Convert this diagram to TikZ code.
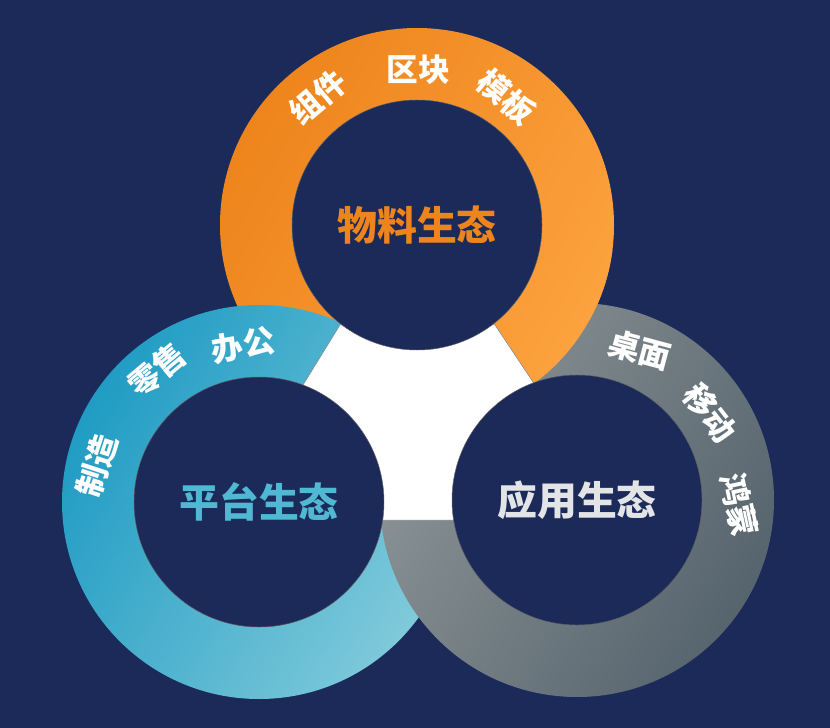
\documentclass[tikz,border=0pt]{standalone}
\usepackage{fontspec}
\newfontfamily\cjk{Noto Sans CJK SC}[BoldFont={Noto Sans CJK SC Black}]
\definecolor{bgNavy}{RGB}{28,42,90}
\definecolor{orA}{RGB}{238,132,28}
\definecolor{orB}{RGB}{252,162,62}
\definecolor{blA}{RGB}{32,156,196}
\definecolor{blB}{RGB}{128,202,218}
\definecolor{grA}{RGB}{140,148,150}
\definecolor{grB}{RGB}{86,100,110}
\definecolor{blText}{RGB}{80,184,210}
\definecolor{grText}{RGB}{226,228,230}
\tikzset{
  ringlabel/.style={font=\cjk\bfseries\fontsize{27}{27}\selectfont, text=white, inner sep=0pt},
  ringtitle/.style={font=\cjk\bfseries\fontsize{34}{34}\selectfont},
  hole/.style={fill=bgNavy, draw=black!60, line width=0.4pt}
}
\begin{document}
\begin{tikzpicture}[x=0.3mm,y=-0.3mm]
\fill[bgNavy] (0,0) rectangle (830,728);
\useasboundingbox (0,0) rectangle (830,728);
\coordinate (cTop) at (417,225);
\coordinate (cLeft) at (259,502);
\coordinate (cRight) at (577,500);
% rings
\path[even odd rule, left color=orA, right color=orB, shading angle=60] (cTop) circle (197) (cTop) circle (125);
\path[even odd rule, left color=blA, right color=blB, shading angle=60] (cLeft) circle (197) (cLeft) circle (125);
\path[even odd rule, left color=grA, right color=grB, shading angle=60] (cRight) circle (197) (cRight) circle (125);
\begin{scope}
  \clip (480,250) -- (640,250) -- (640,330) -- (540,392) -- (480,392) -- cycle;
  \path[even odd rule, left color=orA, right color=orB, shading angle=60] (cTop) circle (197) (cTop) circle (125);
\end{scope}
% centre piece
\fill[white, draw=black!50] (340,325) -- (495,325) -- (535,385) -- (455,520) -- (383,520) -- (303,385) -- cycle;
% holes
\foreach \c in {cTop,cLeft,cRight}
  \filldraw[hole] (\c) circle (125);
% labels
\node[ringlabel, rotate=40] (l1) at (318,97) {组件};
\node[ringlabel] (l2) at (418,70) {区块};
\node[ringlabel, rotate=-40] (l3) at (506,97) {模板};
\node[ringlabel, rotate=72] (l4) at (97,466) {制造};
\node[ringlabel, rotate=40] (l5) at (157,370) {零售};
\node[ringlabel, rotate=10] (l6) at (243,345) {办公};
\node[ringlabel, rotate=-15] (l7) at (640,350) {桌面};
\node[ringlabel, rotate=-52] (l8) at (710,413) {移动};
\node[ringlabel, rotate=-78] (l9) at (739,505) {鸿蒙};
\node[ringtitle, text=orA] (tTop) at (cTop) {物料生态};
\node[ringtitle, text=blText] (tLeft) at (cLeft) {平台生态};
\node[ringtitle, text=grText] (tRight) at (cRight) {应用生态};
\end{tikzpicture}
\end{document}
